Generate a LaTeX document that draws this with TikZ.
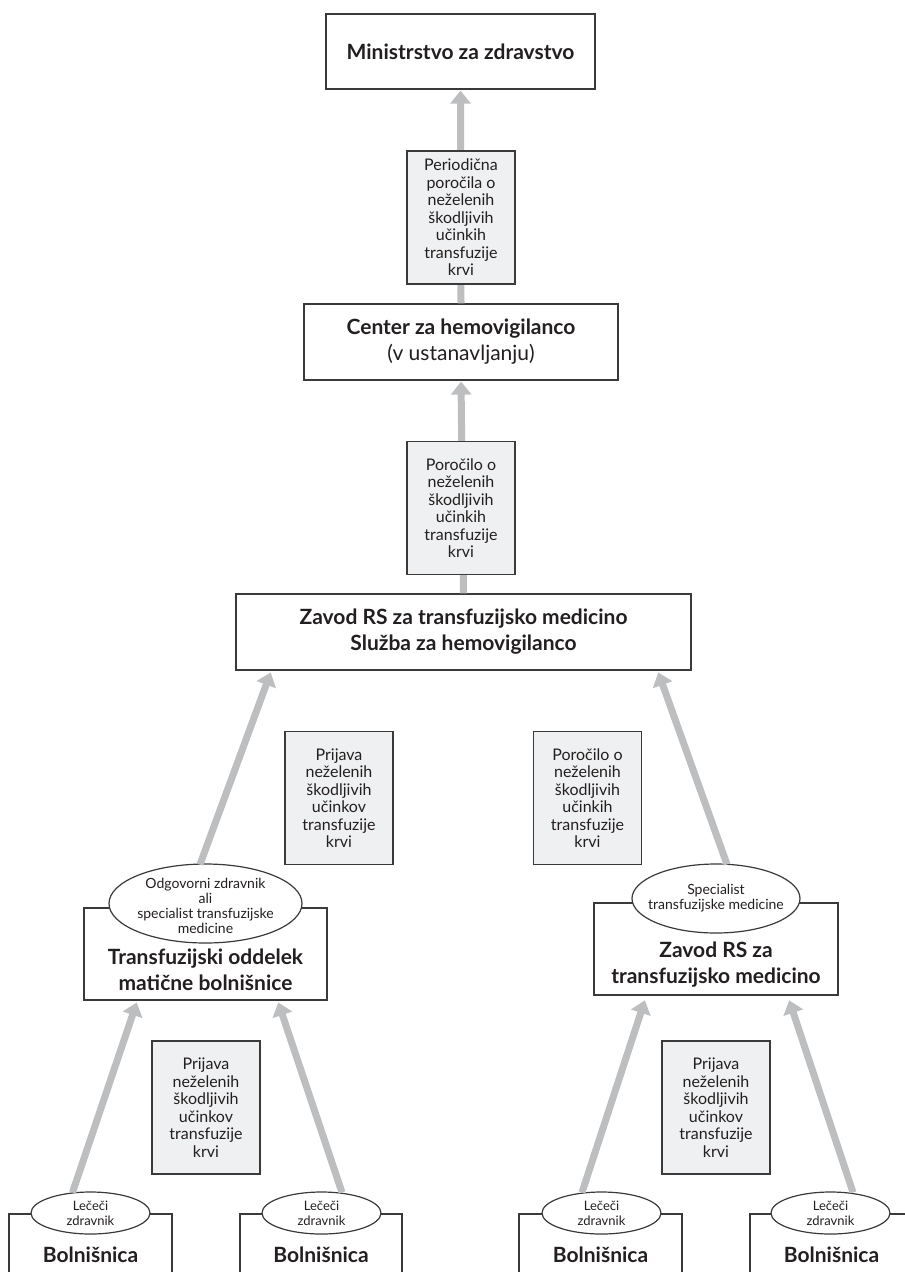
\documentclass[tikz,border=0pt]{standalone}
\usepackage{fontspec}
\setmainfont{Lato}
\usetikzlibrary{shapes.geometric,arrows.meta,calc}
\definecolor{arrgray}{HTML}{BDBEC0}
\definecolor{lblfill}{HTML}{EFF0F1}
\definecolor{inkc}{HTML}{231F20}
\definecolor{linec}{HTML}{3A3A3A}
\begin{document}
\begin{tikzpicture}[x=1pt,y=-1pt,
 mainbox/.style={draw=linec,line width=1.2pt,fill=white,rectangle,inner sep=0pt,align=center,text=inkc},
 headtxt/.style={font=\fontsize{21}{26}\selectfont\bfseries,text=inkc,align=center,inner sep=0pt},
 labelbox/.style={draw=linec,line width=1.2pt,fill=lblfill,rectangle,minimum width=108pt,minimum height=133pt,inner sep=0pt,align=center,font=\fontsize{16}{17.5}\selectfont,text=inkc},
 ellbox/.style={draw=linec,line width=1.2pt,fill=white,ellipse,inner sep=0pt},
 elltxt/.style={align=center,text=inkc,inner sep=0pt,font=\fontsize{14}{15.2}\selectfont},
 smalltxt/.style={align=center,text=inkc,inner sep=0pt,font=\fontsize{13}{15}\selectfont},
 flowarrow/.style={draw=arrgray,line width=7pt,-{Triangle[width=20pt,length=13pt]}}
]
\useasboundingbox (0,0) rectangle (905,1272);
\clip (0,0) rectangle (905,1272);

% main boxes
\node[mainbox,headtxt,minimum width=269pt,minimum height=75pt] (min) at (460.5,51.5) {Ministrstvo za zdravstvo};
\node[mainbox,headtxt,minimum width=314pt,minimum height=76pt] (ctr) at (461,342) {Center za hemovigilanco\\{\mdseries (v ustanavljanju)}};
\node[mainbox,headtxt,minimum width=455pt,minimum height=76pt] (zav) at (463.5,632) {Zavod RS za transfuzijsko medicino\\Služba za hemovigilanco};

\node[mainbox,minimum width=243pt,minimum height=92pt] (tb) at (205.5,954) {};
\node[headtxt] (tbt) at (205.5,970) {Transfuzijski oddelek\\matične bolnišnice};
\node[mainbox,minimum width=244pt,minimum height=92pt] (zr) at (716,949) {};
\node[headtxt] (zrt) at (716,965) {Zavod RS za\\transfuzijsko medicino};

\node[mainbox,headtxt,minimum width=163pt,minimum height=82pt] (b1) at (90.5,1255) {Bolnišnica};
\node[mainbox,headtxt,minimum width=162pt,minimum height=82pt] (b2) at (321,1255) {Bolnišnica};
\node[mainbox,headtxt,minimum width=163pt,minimum height=82pt] (b3) at (600.5,1255) {Bolnišnica};
\node[mainbox,headtxt,minimum width=163pt,minimum height=82pt] (b4) at (831.5,1255) {Bolnišnica};

% ellipses
\node[ellbox,minimum width=193pt,minimum height=79pt] (ellL) at (205.5,903.5) {};
\node[elltxt] (ellLt) at (205.5,906) {Odgovorni zdravnik\\ali\\specialist transfuzijske\\medicine};
\node[ellbox,minimum width=168pt,minimum height=69pt] (ellR) at (716,898.5) {};
\node[elltxt] (ellRt) at (716,898) {Specialist\\transfuzijske medicine};
\node[ellbox,minimum width=119pt,minimum height=42pt] (e1) at (90.5,1213) {};
\node[smalltxt] (e1t) at (90.5,1213) {Lečeči\\zdravnik};
\node[ellbox,minimum width=119pt,minimum height=42pt] (e2) at (321.5,1213) {};
\node[smalltxt] (e2t) at (321.5,1213) {Lečeči\\zdravnik};
\node[ellbox,minimum width=119pt,minimum height=42pt] (e3) at (601.5,1213) {};
\node[smalltxt] (e3t) at (601.5,1213) {Lečeči\\zdravnik};
\node[ellbox,minimum width=119pt,minimum height=42pt] (e4) at (830.5,1213) {};
\node[smalltxt] (e4t) at (830.5,1213) {Lečeči\\zdravnik};

% arrows
\draw[flowarrow,shorten >=1pt] (ctr.north) -- (min.south);
\draw[flowarrow,shorten >=1pt] (zav.north) -- (ctr.south);
\draw[flowarrow,shorten >=2pt] ($(ellL.north)+(-5.5,1)$) -- ($(zav.south west)+(36,0)$);
\draw[flowarrow,shorten >=2pt] ($(ellR.north)+(11,1)$) -- ($(zav.south east)+(-34,0)$);
\draw[flowarrow,shorten >=2pt] ($(e1.north)+(-18,1)$) -- ($(tb.south west)+(54,0)$);
\draw[flowarrow,shorten >=2pt] ($(e2.north)+(20.5,1)$) -- ($(tb.south east)+(-50,0)$);
\draw[flowarrow,shorten >=5pt] ($(e3.north)+(-19.5,1)$) -- ($(zr.south west)+(53,0)$);
\draw[flowarrow,shorten >=5pt] ($(e4.north)+(22.5,1)$) -- ($(zr.south east)+(-51,0)$);

% label boxes
\node[labelbox] (l1) at (461,217.5) {Periodična\\poročila o\\neželenih\\škodljivih\\učinkih\\transfuzije\\krvi};
\node[labelbox] (l2) at (461,508) {Poročilo o\\neželenih\\škodljivih\\učinkih\\transfuzije\\krvi};
\node[labelbox] (l3) at (339,798) {Prijava\\neželenih\\škodljivih\\učinkov\\transfuzije\\krvi};
\node[labelbox] (l4) at (587.5,798) {Poročilo o\\neželenih\\škodljivih\\učinkih\\transfuzije\\krvi};
\node[labelbox] (l5) at (206,1107.5) {Prijava\\neželenih\\škodljivih\\učinkov\\transfuzije\\krvi};
\node[labelbox] (l6) at (716,1107.5) {Prijava\\neželenih\\škodljivih\\učinkov\\transfuzije\\krvi};
\end{tikzpicture}
\end{document}
